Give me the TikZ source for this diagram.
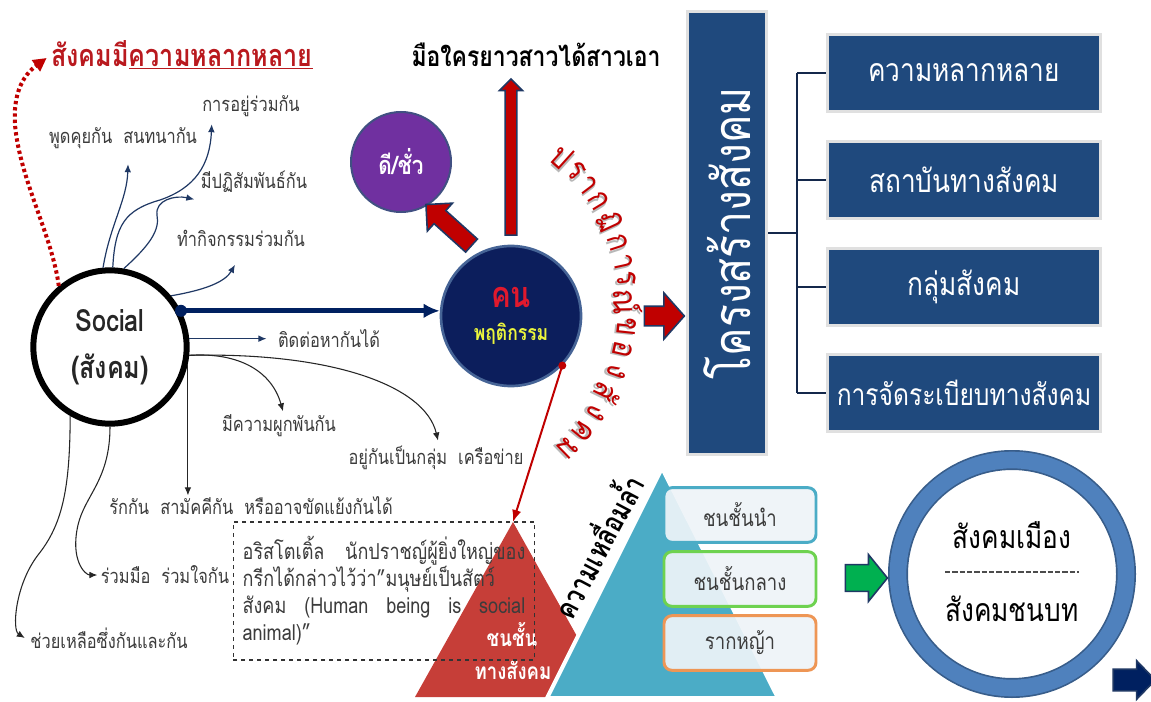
\documentclass[tikz,border=0pt]{standalone}
\usepackage{fontspec}
\setmainfont{Loma}[Script=Thai,FakeStretch=0.82]
\usetikzlibrary{arrows.meta,calc,positioning,shapes.arrows}

\definecolor{navyline}{RGB}{31,56,100}
\definecolor{deepnavy}{RGB}{0,32,96}
\definecolor{konfill}{RGB}{12,30,92}
\definecolor{konedge}{RGB}{70,100,150}
\definecolor{boxblue}{RGB}{31,73,125}
\definecolor{spinenavy}{RGB}{20,40,75}
\definecolor{darkred}{RGB}{192,0,0}
\definecolor{titlered}{RGB}{185,25,30}
\definecolor{konred}{RGB}{225,25,45}
\definecolor{konyellow}{RGB}{235,245,60}
\definecolor{purp}{RGB}{112,48,160}
\definecolor{deeedge}{RGB}{65,80,130}
\definecolor{pyrteal}{RGB}{75,172,198}
\definecolor{redtri}{RGB}{198,62,56}
\definecolor{greenarr}{RGB}{0,176,80}
\definecolor{ringblue}{RGB}{79,129,189}
\definecolor{ringdark}{RGB}{56,93,138}
\definecolor{labelgray}{RGB}{60,60,60}
\definecolor{lightfill}{RGB}{238,244,248}
\definecolor{edgegreen}{RGB}{110,210,80}
\definecolor{edgeorange}{RGB}{238,150,85}

% letter with a soft drop shadow, for the arc text
\newcommand{\shadowch}[1]{\setbox0\hbox{#1}\kern1.4pt\raisebox{-1.4pt}{\textcolor{black!28}{\copy0}}\kern-\wd0\kern-1.4pt\textcolor{darkred}{\box0}}

\tikzset{
  lbl/.style={inner sep=1pt, text=labelgray, font=\fontsize{15}{18}\selectfont},
  thinarr/.style={draw=navyline, line width=0.9pt, -{Latex[length=6pt,width=5pt]}},
  thinblk/.style={draw=black!85, line width=0.8pt, -{Latex[length=6pt,width=5pt]}},
  blockarr/.style={single arrow, draw=navyline, line width=1.2pt, inner xsep=0pt},
  infobox/.style={fill=boxblue, draw=black!12, line width=2.5pt, text=white, inner xsep=2pt,
    font=\fontsize{24}{28}\selectfont, minimum width=205pt, minimum height=58pt},
  tierbox/.style={rounded corners=6pt, fill=lightfill, fill opacity=0.92, text opacity=1,
    line width=2.2pt, minimum width=114pt, minimum height=41pt, text=labelgray,
    font=\fontsize{17}{20}\selectfont},
  bracket/.style={draw=spinenavy, line width=2.2pt},
}

\begin{document}
\begin{tikzpicture}[x=0.75pt,y=0.75pt,yscale=-1,xscale=1]
\fill[white] (0,0) rectangle (1151,702);
\useasboundingbox (0,0) rectangle (1151,702);

% social hub and its labels
\node[circle, draw=black, line width=4.5pt, fill=white, minimum size=115pt, align=center,
  text=black!85, font=\bfseries\fontsize{23}{35}\selectfont] (social) at (110,347) {Social\\(สังคม)};
\node[font=\bfseries\fontsize{23}{26}\selectfont, text=titlered] (title) at (182,55) {สังคมมี\underline{ความหลากหลาย}};

\node[lbl] (talk) at (123,138) {พูดคุยกัน\ \ สนทนากัน};
\node[lbl] (cohab) at (251,106) {การอยู่ร่วมกัน};
\node[lbl] (interact) at (254,182) {มีปฏิสัมพันธ์กัน};
\node[lbl] (activity) at (241,238) {ทำกิจกรรมร่วมกัน};
\node[lbl] (contact) at (329,339) {ติดต่อหากันได้};
\node[lbl] (bond) at (279,426) {มีความผูกพันกัน};
\node[lbl] (group) at (436,458) {อยู่กันเป็นกลุ่ม\ \ เครือข่าย};
\node[lbl] (love) at (251,506) {รักกัน\ \ สามัคคีกัน\ \ หรืออาจขัดแย้งกันได้};
\node[lbl] (coop) at (165,575) {ร่วมมือ\ \ ร่วมใจกัน};
\node[lbl] (help) at (109,638) {ช่วยเหลือซึ่งกันและกัน};

\draw[darkred, line width=3pt, dash pattern=on 2.5pt off 2.2pt, -{Triangle[length=10pt,width=10pt]}]
  (social.130) .. controls (52,235) and (20,180) .. (15,125) .. controls (13,95) and (22,76) .. ($(title.west)+(0,3)$);

\draw[thinarr] (social.95) .. controls (110,225) and (127,200) .. ($(talk.south)+(5,14)$);
\draw[thinarr] (social.88) .. controls (115,225) and (125,210) .. (160,200) .. controls (195,188) and (210,165) .. ($(cohab.south west)+(11,6)$);
\draw[thinarr] (social.80) .. controls (150,245) and (160,230) .. (157,215) .. controls (155,200) and (175,195) .. ($(interact.south west)+(-5,5)$);
\draw[thinarr] (social.40) .. controls (205,290) and (225,282) .. ($(activity.south)+(-6,17)$);
\draw[thinarr] (social.6) -- ($(social.6 -| contact.west)+(-10,0)$);

\draw[thinblk] (social.-6) .. controls (240,352) and (272,372) .. ($(bond.north)+(4,-2)$);
\draw[thinblk] (social.-6) .. controls (330,352) and (425,385) .. ($(group.north)+(2,-4)$);
\draw[thinblk] (social.-12) -- (social.-12 |- love.north);
\draw[thinblk] (social.-90) .. controls (110,480) and (85,495) .. (78,525) .. controls (70,560) and (85,575) .. ($(coop.west)+(-2,0)$);
\draw[thinblk] (social.-120) .. controls (70,490) and (62,525) .. (38,555) .. controls (15,585) and (12,630) .. ($(help.west)+(-4,0)$);

% person circle
\node[circle, fill=konfill, draw=konedge, line width=2pt, minimum size=105pt, align=center] (kon) at (511,316)
  {\textcolor{konred}{\bfseries\fontsize{27}{30}\selectfont คน}\\[10pt]\textcolor{konyellow}{\bfseries\fontsize{16}{18}\selectfont พฤติกรรม}};
\fill[deepnavy] (social.27) circle (6);
\draw[deepnavy, line width=3.75pt, -{Latex[length=12pt,width=11pt]}] (social.27) -- (social.27 -| kon.west);

\node[circle, fill=purp, draw=deeedge, line width=1.5pt, minimum size=75pt, text=white,
  font=\bfseries\fontsize{19}{22}\selectfont] (dee) at (401,162) {ดี/ชั่ว};
\node[font=\bfseries\fontsize{21}{24}\selectfont] (proverb) at (536,55) {มือใครยาวสาวได้สาวเอา};

\node[blockarr, fill=darkred, rotate=138, minimum height=46pt, inner ysep=6pt, single arrow head extend=7.5pt] (toDee) at (452,228) {};
\node[blockarr, fill=darkred, rotate=90, minimum height=117pt, inner ysep=3.8pt, single arrow head extend=4.2pt] (toProverb) at (511,160) {};
\node[blockarr, fill=darkred, minimum height=30pt, inner ysep=6.75pt, single arrow head extend=10pt, single arrow tip angle=97] (toStruct) at (660,316) {};

% phenomenon text on an arc, spaced by letter width
\gdef\arcpos{0}
\foreach \ch/\w [count=\i from 0] in {ป/1,ร/0.8,า/0.7,ก/1,ฏ/1,ก/1,า/0.7,ร/0.8,ณ์/1.15,ข/1,อ/1,ง/1,สั/1,ง/1,ค/1,ม/1}{
  \pgfmathsetmacro\ang{-48+(\arcpos+\w/2-0.5)*6.64}
  \pgfmathsetmacro\rot{-90-(\ang)}
  \node[inner sep=0pt, rotate=\rot, font=\fontsize{25}{27}\selectfont] (arc\i) at ({428+199*cos(\ang)},{305+199*sin(\ang)}) {\shadowch{\ch}};
  \pgfmathsetmacro\nextpos{\arcpos+\w}
  \global\let\arcpos\nextpos
}

% social structure
\node[fill=boxblue, draw=black!12, line width=2.5pt, rotate=90, minimum width=332pt, minimum height=59pt,
  text=white, font=\fontsize{39}{40}\selectfont] (struct) at (727,233) {โครงสร้างสังคม};
\node[infobox] (box1) at (964,73) {ความหลากหลาย};
\node[infobox] (box2) at (964,180) {สถาบันทางสังคม};
\node[infobox] (box3) at (964,287) {กลุ่มสังคม};
\node[infobox, font=\fontsize{22.5}{26}\selectfont] (box4) at (964,393) {การจัดระเบียบทางสังคม};
\coordinate (spine) at (797,233);
\draw[bracket] (struct.south) -- (struct.south -| spine);
\draw[bracket] (box1.west -| spine) -- (box4.west -| spine);
\foreach \b in {box1,box2,box3,box4}
  \draw[bracket] (\b.west -| spine) -- (\b.west);

% stratification
\coordinate (redtop) at (513,522);
\fill[redtri] (redtop) -- (415,697) -- (611,697) -- cycle;
\node[text=white, font=\bfseries\fontsize{17}{20}\selectfont] (stratA) at (512,635) {ชนชั้น};
\node[text=white, font=\bfseries\fontsize{17}{20}\selectfont] (stratB) at (513,670) {ทางสังคม};
\fill[darkred] (kon.-44) circle (4);
\draw[darkred, line width=1.5pt, -{Latex[length=9pt,width=7pt]}] (kon.-44) -- (redtop);

\node[draw=black!80, dashed, line width=0.8pt, text width=212pt, minimum height=103.5pt, inner xsep=7pt,
  align=justify, text=labelgray, font=\fontsize{16.5}{20.25}\selectfont] (quote) at (384,591)
  {อริสโตเติ้ล นักปราชญ์ผู้ยิ่งใหญ่ของ\linebreak กรีกได้กล่าวไว้ว่า"มนุษย์เป็นสัตว์\linebreak สังคม (Human being is social\linebreak animal)"};

\fill[pyrteal, draw=white, line width=3pt] (662,468) -- (547,698) -- (778,698) -- cycle;
\node[rotate=62, inner sep=0pt, font=\bfseries\fontsize{22}{24}\selectfont] (gap) at (596,545) {ความเหลื่อมล้ำ};
\node[tierbox, draw=pyrteal] (elite) at (740,515) {ชนชั้นนำ};
\node[tierbox, draw=edgegreen] (middle) at (740,579) {ชนชั้นกลาง};
\node[tierbox, draw=edgeorange] (grass) at (740,643) {รากหญ้า};

% urban / rural ring
\node[circle, draw=ringdark, line width=15pt, minimum size=171pt, fill=white] (ring) at (1012,574) {};
\draw[ringblue, line width=12.5pt] (ring.center) circle (114);
\node[font=\fontsize{24}{28}\selectfont] (city) at (1012,535) {สังคมเมือง};
\node[font=\fontsize{24}{28}\selectfont] (rural) at (1012,609) {สังคมชนบท};
\draw[black!70, line width=0.8pt, dash pattern=on 4pt off 1.5pt] ($(ring.center)+(-67,-2)$) -- ($(ring.center)+(67,-2)$);

\node[blockarr, fill=greenarr, minimum height=31.5pt, inner ysep=9.4pt, single arrow head extend=7.5pt, single arrow tip angle=102] (toRing) at (861,578) {};
\node[blockarr, fill=deepnavy, minimum height=31.5pt, inner ysep=7.5pt, single arrow head extend=6.4pt, single arrow tip angle=92] (nextArr) at (1129,680) {};
\end{tikzpicture}
\end{document}
